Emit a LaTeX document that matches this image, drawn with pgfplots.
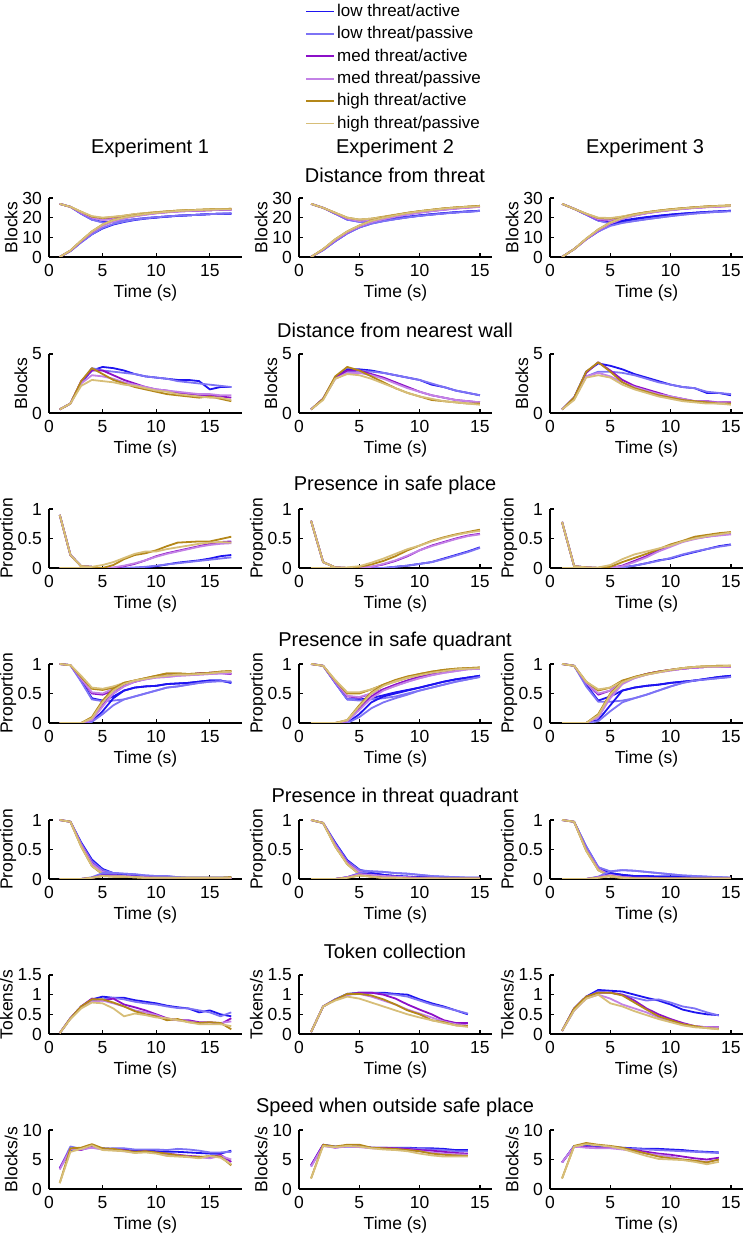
\documentclass[border=0pt]{standalone}
\usepackage{pgfplots}
\pgfplotsset{compat=1.18}
\usepackage{pgfplotstable}
\usepackage{fontspec}
\setmainfont{Liberation Sans}

\definecolor{lowA}{RGB}{30,20,240}
\definecolor{lowP}{RGB}{125,115,245}
\definecolor{medA}{RGB}{140,15,200}
\definecolor{medP}{RGB}{195,130,230}
\definecolor{highA}{RGB}{180,135,25}
\definecolor{highP}{RGB}{215,190,120}

\pgfplotscreateplotcyclelist{threat}{{lowA},{lowP},{medA},{medP},{highA},{highP}}

\pgfplotsset{
  panel/.style={
    scale only axis, width=96.5pt, height=29.5pt,
    xmin=0, ymin=0, xtick={0,5,10,15},
    axis x line*=bottom, axis y line*=left,
    axis line style={line width=0.8pt},
    tick style={black, line width=0.6pt},
    tick align=inside, major tick length=2pt,
    xlabel={Time (s)},
    /pgf/number format/assume math mode=true,
    tick label style={font=\fontsize{8.75}{10}\selectfont},
    label style={font=\fontsize{8.75}{10}\selectfont},
    xlabel style={yshift=2.5pt},
    ylabel style={inner sep=0.5pt, text depth=0.2em, yshift=-3.5pt},
    cycle list name=threat,
    every axis plot/.append style={line width=0.9pt, line join=round},
  },
  e1/.style={panel, xmax=18},
  e2/.style={panel, xmax=16},
  r1/.style={ymax=30, ytick={0,10,20,30}, ylabel=Blocks},
  r2/.style={ymax=5, ytick={0,5}, ylabel=Blocks},
  r3/.style={ymax=1, ytick={0,0.5,1}, ylabel=Proportion},
  r6/.style={ymax=1.5, ytick={0,0.5,1,1.5}, ylabel=Tokens/s},
  r7/.style={ymax=10, ytick={0,5,10}, ylabel=Blocks/s},
}

% one row per series, transposed to columns
\newcommand\mktab[2]{\pgfplotstableread[row sep=\\]{#2}\tmpraw
  \pgfplotstabletranspose[colnames from=n]{#1}\tmpraw}

\newcommand\panel[4]{%
  \begin{axis}[#1, at={(#2)}, anchor=south west]
  \pgfplotsforeachungrouped \i in {1,...,#4}{\addplot table[x index=0, y index=\i]{#3};}
  \end{axis}}

% ---------- Distance from threat ----------
\mktab\dtA{
n 1 2 3 4 5 6 7 8 9 10 11 12 13 14 15 16 17 \\
a1 27 25.5 22 19 17.8 18 18.5 19.2 19.8 20.2 20.6 21 21.2 21.5 21.8 22 22 \\
a2 27 25.5 22 19 17.5 17.8 18.5 19.2 19.8 20.2 20.6 21 21.2 21.5 21.8 22 22.2 \\
a3 27 25.5 22.5 20 19 19.5 20.5 21.3 22 22.5 23 23.3 23.5 23.6 23.8 24 24 \\
a4 27 25.5 22.5 20 18.8 19.3 20.3 21.2 21.8 22.3 22.8 23.2 23.4 23.6 23.8 24 24 \\
a5 27 25.5 23 20.5 19.8 20.3 21 21.8 22.3 22.8 23.2 23.6 23.8 24 24.2 24.3 24.5 \\
a6 27 25.5 23 20.8 20 20.5 21 21.8 22.3 22.8 23.2 23.6 23.8 24 24.2 24.3 24.3 \\
b1 0 3 7.5 11.5 14.5 16.5 17.8 18.8 19.5 20 20.5 20.9 21.2 21.5 21.8 22 22 \\
b2 0 3 7.5 11.5 14.8 16.8 18 19 19.6 20.2 20.6 21 21.2 21.5 21.8 22 22.2 \\
b3 0 3.2 8 12.5 16 18.3 19.8 20.8 21.6 22.3 22.8 23.2 23.4 23.6 23.8 24 24 \\
b4 0 3.2 8 12.5 15.8 18 19.6 20.7 21.5 22.2 22.7 23.1 23.4 23.6 23.8 24 24 \\
b5 0 3.3 8.3 13 16.5 18.8 20.2 21.2 22 22.6 23.1 23.5 23.8 24 24.2 24.3 24.5 \\
b6 0 3.3 8.3 13 16.5 18.7 20.1 21.1 21.9 22.5 23 23.4 23.7 23.9 24.1 24.3 24.3 \\
}
\mktab\dtB{
n 1 2 3 4 5 6 7 8 9 10 11 12 13 14 15 \\
a1 27 25 22 19 18 18.3 19 19.8 20.5 21.2 21.8 22.3 22.8 23.2 23.5 \\
a2 27 25 22 19 17.8 18 18.7 19.5 20.3 21 21.6 22.2 22.7 23.1 23.4 \\
a3 27 25 22.3 19.5 18.5 19 20 21 22 22.8 23.5 24.2 24.8 25.3 25.6 \\
a4 27 25 22.3 19.5 18.3 18.8 19.8 20.8 21.8 22.7 23.4 24.1 24.7 25.2 25.5 \\
a5 27 25 22.5 20 19 19.5 20.5 21.5 22.5 23.3 24 24.7 25.2 25.6 26 \\
a6 27 25 22.5 20 19 19.5 20.3 21.3 22.3 23.1 23.9 24.6 25.1 25.5 25.8 \\
b1 0 3.5 8 12 15 17 18.3 19.3 20.2 21 21.6 22.2 22.7 23.1 23.5 \\
b2 0 3.5 8 12 15 17 18.2 19.2 20.1 20.9 21.5 22.1 22.6 23 23.4 \\
b3 0 3.8 8.5 12.5 15.5 17.8 19.3 20.6 21.7 22.6 23.4 24.1 24.7 25.2 25.6 \\
b4 0 3.8 8.5 12.5 15.5 17.7 19.2 20.5 21.6 22.5 23.3 24 24.6 25.1 25.5 \\
b5 0 4 9 13 16 18.5 20 21.3 22.4 23.3 24 24.7 25.2 25.6 26 \\
b6 0 4 9 13 16 18.4 19.9 21.2 22.3 23.2 23.9 24.6 25.1 25.5 25.8 \\
}
\mktab\dtC{
n 1 2 3 4 5 6 7 8 9 10 11 12 13 14 15 \\
a1 27 24.5 21.5 18.5 17.5 18.5 19.5 20.3 21 21.6 22.1 22.5 22.9 23.2 23.5 \\
a2 27 24.5 21.5 18.5 17 17.5 18.3 19.2 20 20.8 21.5 22.1 22.6 23 23.3 \\
a3 27 24.5 21.8 19 18.5 20 21.3 22.4 23.3 24 24.6 25.1 25.5 25.8 26 \\
a4 27 24.5 21.8 19.2 18.8 20 21.2 22.3 23.2 23.9 24.5 25 25.4 25.7 25.9 \\
a5 27 24.5 22 19.8 19.5 20.5 21.8 22.8 23.6 24.3 24.8 25.3 25.7 26 26.2 \\
a6 27 24.5 22 20 19.8 20.6 21.7 22.7 23.5 24.2 24.7 25.2 25.6 25.9 26.1 \\
b1 0 4 9 13 16.3 18 19.2 20.1 20.9 21.5 22 22.5 22.9 23.2 23.5 \\
b2 0 4 9 13 15.8 17.3 18.3 19.2 20 20.8 21.5 22.1 22.6 23 23.3 \\
b3 0 4 9 13.5 17 19.5 21.1 22.3 23.2 23.9 24.5 25 25.4 25.7 26 \\
b4 0 4 9 13.5 17 19.4 21 22.2 23.1 23.8 24.4 24.9 25.3 25.6 25.9 \\
b5 0 4 9.3 14 17.5 20 21.6 22.7 23.5 24.2 24.8 25.3 25.7 26 26.2 \\
b6 0 4 9.3 14 17.5 19.9 21.5 22.6 23.4 24.1 24.7 25.2 25.6 25.9 26.1 \\
}

% ---------- Distance from nearest wall ----------
\mktab\wA{
n 1 2 3 4 5 6 7 8 9 10 11 12 13 14 15 16 17 \\
c1 0.3 0.8 2.6 3.6 3.9 3.8 3.6 3.3 3.1 3.0 2.9 2.8 2.8 2.7 2.0 2.2 2.2 \\
c2 0.3 0.8 2.6 3.8 3.6 3.5 3.4 3.3 3.1 3.0 2.9 2.7 2.6 2.5 2.4 2.3 2.2 \\
c3 0.3 0.8 2.7 3.6 3.6 3.2 2.8 2.5 2.2 2.0 1.9 1.7 1.6 1.5 1.5 1.4 1.3 \\
c4 0.3 0.8 2.5 3.2 3.1 2.9 2.6 2.4 2.2 2.0 1.9 1.8 1.7 1.6 1.6 1.5 1.5 \\
c5 0.3 0.8 2.7 3.8 3.3 2.8 2.5 2.2 2.0 1.8 1.6 1.5 1.4 1.3 1.4 1.2 1.0 \\
c6 0.3 0.8 2.3 2.8 2.7 2.6 2.4 2.3 2.1 1.9 1.8 1.6 1.5 1.4 1.3 1.3 1.1 \\
}
\mktab\wB{
n 1 2 3 4 5 6 7 8 9 10 11 12 13 14 15 \\
c1 0.3 1.2 3.0 3.7 3.7 3.6 3.4 3.2 3.0 2.8 2.4 2.2 1.9 1.7 1.5 \\
c2 0.3 1.2 2.9 3.5 3.6 3.5 3.4 3.2 3.0 2.8 2.5 2.2 1.9 1.7 1.5 \\
c3 0.3 1.2 3.0 3.6 3.6 3.3 3.0 2.6 2.2 1.8 1.5 1.3 1.1 1.0 0.9 \\
c4 0.3 1.2 2.9 3.4 3.4 3.2 2.9 2.5 2.1 1.8 1.5 1.3 1.1 1.0 0.9 \\
c5 0.3 1.2 3.1 3.9 3.6 3.1 2.6 2.1 1.7 1.4 1.1 1.0 0.9 0.8 0.8 \\
c6 0.3 1.1 2.9 3.3 3.2 2.9 2.5 2.1 1.7 1.4 1.2 1.0 0.9 0.8 0.7 \\
}
\mktab\wC{
n 1 2 3 4 5 6 7 8 9 10 11 12 13 14 15 \\
c1 0.3 1.3 3.5 4.2 4.0 3.7 3.3 3.0 2.7 2.4 2.2 2.1 1.7 1.7 1.5 \\
c2 0.3 1.2 3.1 3.5 3.5 3.4 3.2 2.9 2.6 2.4 2.2 2.1 1.8 1.7 1.6 \\
c3 0.3 1.3 3.4 4.3 3.6 2.8 2.3 2.0 1.7 1.4 1.2 1.0 1.0 0.9 0.9 \\
c4 0.3 1.2 3.1 3.4 3.1 2.6 2.2 1.9 1.6 1.4 1.2 1.0 0.9 0.9 0.8 \\
c5 0.3 1.3 3.5 4.3 3.5 2.6 2.1 1.8 1.5 1.3 1.1 1.0 0.9 0.8 0.8 \\
c6 0.3 1.1 3.0 3.2 3.0 2.4 2.0 1.7 1.4 1.2 1.0 0.9 0.8 0.8 0.7 \\
}

% ---------- Presence in safe place ----------
\mktab\spA{
n 1 2 3 4 5 6 7 8 9 10 11 12 13 14 15 16 17 \\
a1 0.9 0.22 0.03 0.02 nan nan nan nan nan nan nan nan nan nan nan nan nan \\
a2 0.9 0.22 0.03 0.02 nan nan nan nan nan nan nan nan nan nan nan nan nan \\
a3 0.9 0.22 0.03 0.02 nan nan nan nan nan nan nan nan nan nan nan nan nan \\
a4 0.9 0.22 0.03 0.02 nan nan nan nan nan nan nan nan nan nan nan nan nan \\
a5 0.9 0.22 0.03 0.02 nan nan nan nan nan nan nan nan nan nan nan nan nan \\
a6 0.9 0.22 0.03 0.02 nan nan nan nan nan nan nan nan nan nan nan nan nan \\
b1 0 0 0 0 0 0 0 0 0.01 0.03 0.06 0.09 0.11 0.13 0.16 0.2 0.22 \\
b2 0 0 0 0 0 0 0 0.01 0.02 0.04 0.06 0.08 0.1 0.12 0.14 0.16 0.18 \\
b3 0 0 0 0 0 0 0.03 0.07 0.13 0.2 0.25 0.29 0.33 0.37 0.41 0.44 0.45 \\
b4 0 0 0 0 0 0.01 0.04 0.08 0.13 0.19 0.24 0.28 0.32 0.36 0.39 0.41 0.42 \\
b5 0 0 0 0 0 0.05 0.15 0.22 0.25 0.3 0.37 0.43 0.44 0.45 0.45 0.49 0.53 \\
b6 0 0 0 0.02 0.05 0.1 0.17 0.24 0.28 0.28 0.32 0.35 0.38 0.41 0.43 0.44 0.43 \\
}
\mktab\spB{
n 1 2 3 4 5 6 7 8 9 10 11 12 13 14 15 \\
a1 0.8 0.1 0.01 0 nan nan nan nan nan nan nan nan nan nan nan \\
a2 0.8 0.1 0.01 0 nan nan nan nan nan nan nan nan nan nan nan \\
a3 0.8 0.1 0.01 0 nan nan nan nan nan nan nan nan nan nan nan \\
a4 0.8 0.1 0.01 0 nan nan nan nan nan nan nan nan nan nan nan \\
a5 0.8 0.1 0.01 0 nan nan nan nan nan nan nan nan nan nan nan \\
a6 0.8 0.1 0.01 0 nan nan nan nan nan nan nan nan nan nan nan \\
b1 0 0 0 0 0 0 0 0.02 0.04 0.07 0.1 0.16 0.22 0.28 0.35 \\
b2 0 0 0 0 0 0 0 0.02 0.04 0.07 0.1 0.15 0.21 0.27 0.34 \\
b3 0 0 0 0 0 0.02 0.06 0.12 0.2 0.3 0.38 0.44 0.5 0.55 0.58 \\
b4 0 0 0 0 0 0.02 0.07 0.13 0.21 0.3 0.37 0.43 0.49 0.54 0.57 \\
b5 0 0 0 0 0.02 0.06 0.12 0.2 0.3 0.38 0.46 0.52 0.57 0.61 0.65 \\
b6 0 0 0 0.01 0.03 0.09 0.16 0.24 0.32 0.38 0.45 0.51 0.56 0.6 0.63 \\
}
\mktab\spC{
n 1 2 3 4 5 6 7 8 9 10 11 12 13 14 15 \\
a1 0.78 0.03 0.01 0 nan nan nan nan nan nan nan nan nan nan nan \\
a2 0.78 0.03 0.01 0 nan nan nan nan nan nan nan nan nan nan nan \\
a3 0.78 0.03 0.01 0 nan nan nan nan nan nan nan nan nan nan nan \\
a4 0.78 0.03 0.01 0 nan nan nan nan nan nan nan nan nan nan nan \\
a5 0.78 0.03 0.01 0 nan nan nan nan nan nan nan nan nan nan nan \\
a6 0.78 0.03 0.01 0 nan nan nan nan nan nan nan nan nan nan nan \\
b1 0 0 0 0 0 0.01 0.04 0.08 0.13 0.16 0.22 0.27 0.32 0.37 0.4 \\
b2 0 0 0 0 0 0.01 0.04 0.08 0.12 0.17 0.23 0.28 0.32 0.36 0.39 \\
b3 0 0 0 0 0 0.04 0.12 0.2 0.3 0.38 0.45 0.5 0.53 0.56 0.58 \\
b4 0 0 0 0 0 0.03 0.1 0.18 0.28 0.36 0.44 0.49 0.53 0.55 0.57 \\
b5 0 0 0 0 0.02 0.1 0.17 0.24 0.32 0.4 0.46 0.53 0.56 0.59 0.61 \\
b6 0 0 0 0.01 0.05 0.15 0.23 0.28 0.33 0.38 0.45 0.5 0.54 0.57 0.6 \\
}

% ---------- Presence in safe quadrant ----------
\mktab\sqA{
n 1 2 3 4 5 6 7 8 9 10 11 12 13 14 15 16 17 \\
a1 1 0.98 0.72 0.42 0.38 0.45 0.55 0.6 0.62 0.63 0.66 0.67 0.68 0.7 0.72 0.72 0.68 \\
a2 1 0.98 0.7 0.4 0.37 0.38 0.4 0.45 0.5 0.55 0.6 0.62 0.65 0.68 0.7 0.71 0.7 \\
a3 1 0.98 0.75 0.5 0.48 0.55 0.65 0.7 0.75 0.78 0.8 0.82 0.82 0.84 0.85 0.85 0.83 \\
a4 1 0.98 0.75 0.52 0.5 0.58 0.66 0.7 0.74 0.77 0.78 0.8 0.81 0.82 0.83 0.84 0.84 \\
a5 1 0.98 0.78 0.58 0.56 0.6 0.68 0.72 0.76 0.8 0.84 0.84 0.83 0.84 0.85 0.87 0.88 \\
a6 1 0.98 0.8 0.6 0.58 0.62 0.68 0.72 0.75 0.78 0.8 0.82 0.82 0.83 0.84 0.86 0.87 \\
b1 0 0 0 0.02 0.2 0.42 0.55 0.6 0.62 0.63 0.66 0.67 0.68 0.7 0.72 0.72 0.68 \\
b2 0 0 0 0.02 0.15 0.3 0.4 0.45 0.5 0.55 0.6 0.62 0.65 0.68 0.7 0.71 0.7 \\
b3 0 0 0 0.05 0.3 0.5 0.63 0.7 0.75 0.78 0.8 0.82 0.82 0.84 0.85 0.85 0.83 \\
b4 0 0 0 0.05 0.28 0.5 0.62 0.7 0.74 0.77 0.78 0.8 0.81 0.82 0.83 0.84 0.84 \\
b5 0 0 0 0.1 0.38 0.58 0.68 0.72 0.76 0.8 0.84 0.84 0.83 0.84 0.85 0.87 0.88 \\
b6 0 0 0 0.08 0.35 0.55 0.66 0.72 0.75 0.78 0.8 0.82 0.82 0.83 0.84 0.86 0.87 \\
}
\mktab\sqB{
n 1 2 3 4 5 6 7 8 9 10 11 12 13 14 15 \\
a1 1 0.97 0.68 0.4 0.4 0.42 0.47 0.52 0.56 0.6 0.65 0.7 0.74 0.77 0.8 \\
a2 1 0.97 0.68 0.4 0.38 0.4 0.42 0.45 0.5 0.55 0.6 0.65 0.7 0.74 0.78 \\
a3 1 0.97 0.7 0.45 0.43 0.5 0.57 0.65 0.72 0.78 0.83 0.87 0.9 0.92 0.93 \\
a4 1 0.97 0.7 0.46 0.44 0.5 0.56 0.63 0.7 0.76 0.81 0.85 0.88 0.91 0.92 \\
a5 1 0.97 0.72 0.5 0.5 0.57 0.65 0.72 0.78 0.83 0.87 0.9 0.92 0.93 0.94 \\
a6 1 0.97 0.73 0.52 0.52 0.57 0.64 0.7 0.76 0.81 0.85 0.88 0.91 0.92 0.93 \\
b1 0 0 0 0 0.15 0.35 0.45 0.5 0.55 0.6 0.65 0.7 0.74 0.77 0.8 \\
b2 0 0 0 0 0.1 0.25 0.35 0.42 0.48 0.55 0.6 0.65 0.7 0.74 0.78 \\
b3 0 0 0 0.03 0.25 0.45 0.57 0.65 0.72 0.78 0.83 0.87 0.9 0.92 0.93 \\
b4 0 0 0 0.03 0.22 0.42 0.55 0.63 0.7 0.76 0.81 0.85 0.88 0.91 0.92 \\
b5 0 0 0 0.05 0.3 0.52 0.65 0.73 0.79 0.83 0.87 0.9 0.92 0.93 0.94 \\
b6 0 0 0 0.05 0.28 0.5 0.63 0.71 0.77 0.81 0.85 0.88 0.91 0.92 0.93 \\
}
\mktab\sqC{
n 1 2 3 4 5 6 7 8 9 10 11 12 13 14 15 \\
a1 1 0.97 0.65 0.38 0.45 0.55 0.6 0.63 0.65 0.68 0.7 0.72 0.75 0.78 0.8 \\
a2 1 0.97 0.62 0.36 0.36 0.38 0.42 0.48 0.55 0.62 0.68 0.72 0.74 0.76 0.78 \\
a3 1 0.97 0.68 0.48 0.55 0.7 0.77 0.83 0.87 0.9 0.92 0.94 0.95 0.96 0.96 \\
a4 1 0.97 0.68 0.5 0.55 0.68 0.76 0.82 0.86 0.89 0.92 0.94 0.95 0.95 0.96 \\
a5 1 0.97 0.7 0.55 0.6 0.72 0.78 0.83 0.87 0.9 0.93 0.95 0.96 0.97 0.97 \\
a6 1 0.97 0.7 0.57 0.6 0.7 0.77 0.82 0.86 0.9 0.93 0.95 0.96 0.96 0.97 \\
b1 0 0 0 0.05 0.3 0.55 0.6 0.63 0.65 0.68 0.7 0.72 0.75 0.78 0.8 \\
b2 0 0 0 0.03 0.2 0.35 0.42 0.48 0.55 0.62 0.68 0.72 0.74 0.76 0.78 \\
b3 0 0 0 0.1 0.45 0.68 0.77 0.83 0.87 0.9 0.92 0.94 0.95 0.96 0.96 \\
b4 0 0 0 0.1 0.42 0.66 0.76 0.82 0.86 0.89 0.92 0.94 0.95 0.95 0.96 \\
b5 0 0 0 0.15 0.5 0.7 0.78 0.83 0.87 0.9 0.93 0.95 0.96 0.97 0.97 \\
b6 0 0 0 0.13 0.48 0.69 0.77 0.82 0.86 0.9 0.93 0.95 0.96 0.96 0.97 \\
}

% ---------- Presence in threat quadrant ----------
\mktab\tqA{
n 1 2 3 4 5 6 7 8 9 10 11 12 13 14 15 16 17 \\
a1 1 0.97 0.62 0.33 0.17 0.1 0.08 0.06 0.05 0.04 0.03 0.02 0.02 0.02 0.02 0.02 0.02 \\
a2 1 0.97 0.6 0.3 0.15 0.1 0.09 0.08 0.06 0.05 0.05 0.03 0.02 0.02 0.02 0.02 0.02 \\
a3 1 0.97 0.58 0.27 0.12 0.07 0.05 0.04 0.03 0.02 0.02 0.01 0.01 0.01 0.01 0.01 0.01 \\
a4 1 0.97 0.58 0.26 0.12 0.07 0.05 0.04 0.03 0.02 0.02 0.01 0.01 0.01 0.01 0.01 0.01 \\
a5 1 0.97 0.55 0.22 0.08 0.05 0.04 0.03 0.02 0.02 0.02 0.02 0.02 0.02 0.02 0.02 0.03 \\
a6 1 0.97 0.55 0.22 0.09 0.05 0.04 0.03 0.02 0.02 0.02 0.02 0.02 0.02 0.02 0.02 0.02 \\
b1 0 0 0 0.02 0.07 0.08 0.07 0.06 0.05 0.04 0.03 0.02 0.02 0.02 0.02 0.02 0.02 \\
b2 0 0 0 0.03 0.1 0.1 0.09 0.08 0.06 0.05 0.05 0.03 0.02 0.02 0.02 0.02 0.02 \\
b3 0 0 0 0.02 0.06 0.06 0.05 0.04 0.03 0.02 0.02 0.01 0.01 0.01 0.01 0.01 0.01 \\
b4 0 0 0 0.02 0.06 0.06 0.05 0.04 0.03 0.02 0.02 0.01 0.01 0.01 0.01 0.01 0.01 \\
b5 0 0 0 0.02 0.05 0.04 0.04 0.03 0.02 0.02 0.02 0.02 0.02 0.02 0.02 0.02 0.03 \\
b6 0 0 0 0.02 0.05 0.04 0.04 0.03 0.02 0.02 0.02 0.02 0.02 0.02 0.02 0.02 0.02 \\
}
\mktab\tqB{
n 1 2 3 4 5 6 7 8 9 10 11 12 13 14 15 \\
a1 1 0.95 0.62 0.32 0.16 0.1 0.07 0.05 0.04 0.03 0.03 0.02 0.02 0.02 0.02 \\
a2 1 0.95 0.6 0.3 0.15 0.13 0.12 0.1 0.09 0.07 0.05 0.04 0.03 0.02 0.02 \\
a3 1 0.95 0.58 0.28 0.12 0.07 0.05 0.04 0.03 0.02 0.02 0.01 0.01 0.01 0.01 \\
a4 1 0.95 0.58 0.27 0.12 0.07 0.05 0.04 0.03 0.02 0.02 0.01 0.01 0.01 0.01 \\
a5 1 0.95 0.55 0.25 0.08 0.04 0.02 0.02 0.01 0.01 0.01 0.01 0.01 0.01 0.01 \\
a6 1 0.95 0.55 0.25 0.08 0.04 0.02 0.02 0.01 0.01 0.01 0.01 0.01 0.01 0.01 \\
b1 0 0 0 0.03 0.09 0.1 0.07 0.05 0.04 0.03 0.03 0.02 0.02 0.02 0.02 \\
b2 0 0 0 0.03 0.1 0.13 0.12 0.1 0.09 0.07 0.05 0.04 0.03 0.02 0.02 \\
b3 0 0 0 0.03 0.08 0.07 0.05 0.04 0.03 0.02 0.02 0.01 0.01 0.01 0.01 \\
b4 0 0 0 0.03 0.08 0.07 0.05 0.04 0.03 0.02 0.02 0.01 0.01 0.01 0.01 \\
b5 0 0 0 0.02 0.06 0.04 0.02 0.02 0.01 0.01 0.01 0.01 0.01 0.01 0.01 \\
b6 0 0 0 0.02 0.06 0.04 0.02 0.02 0.01 0.01 0.01 0.01 0.01 0.01 0.01 \\
}
\mktab\tqC{
n 1 2 3 4 5 6 7 8 9 10 11 12 13 14 15 \\
a1 1 0.97 0.55 0.2 0.1 0.07 0.05 0.05 0.04 0.04 0.04 0.03 0.03 0.02 0.02 \\
a2 1 0.97 0.55 0.2 0.13 0.15 0.14 0.12 0.1 0.08 0.06 0.05 0.04 0.03 0.02 \\
a3 1 0.97 0.5 0.17 0.06 0.03 0.02 0.02 0.01 0.01 0.01 0.01 0.01 0.01 0.01 \\
a4 1 0.97 0.5 0.17 0.06 0.03 0.02 0.02 0.01 0.01 0.01 0.01 0.01 0.01 0.01 \\
a5 1 0.97 0.48 0.15 0.04 0.02 0.01 0.01 0.01 0.01 0.01 0.01 0.01 0.01 0.01 \\
a6 1 0.97 0.48 0.15 0.04 0.02 0.01 0.01 0.01 0.01 0.01 0.01 0.01 0.01 0.01 \\
b1 0 0 0 0.03 0.1 0.07 0.05 0.05 0.04 0.04 0.04 0.03 0.03 0.02 0.02 \\
b2 0 0 0 0.04 0.13 0.15 0.14 0.12 0.1 0.08 0.06 0.05 0.04 0.03 0.02 \\
b3 0 0 0 0.03 0.07 0.03 0.02 0.02 0.01 0.01 0.01 0.01 0.01 0.01 0.01 \\
b4 0 0 0 0.03 0.07 0.03 0.02 0.02 0.01 0.01 0.01 0.01 0.01 0.01 0.01 \\
b5 0 0 0 0.02 0.05 0.02 0.01 0.01 0.01 0.01 0.01 0.01 0.01 0.01 0.01 \\
b6 0 0 0 0.02 0.05 0.02 0.01 0.01 0.01 0.01 0.01 0.01 0.01 0.01 0.01 \\
}

% ---------- Token collection ----------
\mktab\tkA{
n 1 2 3 4 5 6 7 8 9 10 11 12 13 14 15 16 17 \\
c1 0.02 0.4 0.7 0.88 0.95 0.92 0.92 0.86 0.82 0.78 0.72 0.68 0.65 0.55 0.6 0.5 0.45 \\
c2 0.02 0.4 0.68 0.85 0.88 0.92 0.88 0.82 0.78 0.75 0.7 0.66 0.65 0.6 0.55 0.45 0.55 \\
c3 0.02 0.4 0.7 0.9 0.85 0.9 0.75 0.68 0.6 0.5 0.4 0.35 0.35 0.3 0.3 0.25 0.4 \\
c4 0.02 0.4 0.68 0.82 0.85 0.78 0.7 0.6 0.55 0.48 0.38 0.35 0.32 0.28 0.3 0.28 0.32 \\
c5 0.02 0.4 0.7 0.88 0.88 0.8 0.7 0.58 0.5 0.45 0.35 0.38 0.3 0.28 0.3 0.28 0.12 \\
c6 0.02 0.38 0.65 0.8 0.78 0.65 0.45 0.52 0.48 0.42 0.4 0.35 0.3 0.25 0.25 0.25 0.2 \\
}
\mktab\tkB{
n 1 2 3 4 5 6 7 8 9 10 11 12 13 14 \\
c1 0.05 0.7 0.88 1.02 1.05 1.05 1.05 1.02 1.0 0.88 0.78 0.7 0.6 0.5 \\
c2 0.05 0.7 0.88 1.0 1.05 1.05 1.02 1.0 0.95 0.85 0.75 0.68 0.6 0.52 \\
c3 0.05 0.7 0.87 1.0 1.05 1.05 1.0 0.9 0.75 0.62 0.5 0.35 0.28 0.28 \\
c4 0.05 0.7 0.87 1.0 1.02 0.95 0.85 0.75 0.62 0.52 0.42 0.32 0.25 0.22 \\
c5 0.05 0.7 0.87 1.02 1.02 0.98 0.88 0.75 0.6 0.5 0.35 0.3 0.22 0.2 \\
c6 0.05 0.7 0.85 0.95 0.9 0.8 0.7 0.6 0.5 0.42 0.35 0.28 0.22 0.18 \\
}
\mktab\tkC{
n 1 2 3 4 5 6 7 8 9 10 11 12 13 14 \\
c1 0.08 0.65 0.95 1.12 1.1 1.08 1.0 0.92 0.85 0.75 0.62 0.55 0.5 0.48 \\
c2 0.08 0.6 0.92 1.08 1.05 1.0 0.92 0.85 0.88 0.8 0.7 0.65 0.55 0.47 \\
c3 0.08 0.65 0.95 1.05 1.05 1.0 0.85 0.65 0.5 0.38 0.28 0.2 0.17 0.17 \\
c4 0.08 0.6 0.9 1.0 0.9 0.75 0.65 0.55 0.42 0.32 0.25 0.2 0.17 0.15 \\
c5 0.08 0.65 0.95 1.05 1.05 0.98 0.8 0.62 0.45 0.35 0.25 0.2 0.15 0.13 \\
c6 0.08 0.6 0.9 1.0 0.78 0.7 0.58 0.48 0.38 0.3 0.22 0.17 0.15 0.12 \\
}

% ---------- Speed when outside safe place ----------
\mktab\vA{
n 1 2 3 4 5 6 7 8 9 10 11 12 13 14 15 16 17 \\
c1 3.5 6.5 6.8 7.2 6.9 6.8 6.8 6.5 6.6 6.4 6.3 6.3 6.2 6.1 6.0 6.0 6.5 \\
c2 3.5 7.2 6.8 7.0 6.8 6.9 6.9 6.7 6.7 6.7 6.6 6.8 6.7 6.5 6.2 6.2 6.3 \\
c3 3.5 6.8 6.6 7.2 6.8 6.7 6.6 6.3 6.4 6.2 6.0 5.8 5.6 5.5 5.3 5.8 4.6 \\
c4 3.3 6.8 6.7 7.0 6.7 6.6 6.4 6.2 6.3 6.1 5.8 5.7 5.5 5.4 5.2 5.6 5.0 \\
c5 1.0 6.9 7.0 7.6 6.9 6.8 6.5 6.3 6.4 6.2 6.0 5.7 5.5 5.4 5.6 5.5 4.0 \\
c6 1.0 6.3 6.8 7.4 6.6 6.5 6.4 6.1 6.2 6.0 5.6 5.5 5.4 5.2 5.6 5.3 4.2 \\
}
\mktab\vB{
n 1 2 3 4 5 6 7 8 9 10 11 12 13 14 \\
c1 4.0 7.5 7.2 7.2 7.2 7.0 7.0 7.0 7.0 6.9 6.9 6.8 6.6 6.6 \\
c2 3.8 7.3 7.1 7.2 7.3 7.0 6.9 6.9 6.9 6.8 6.7 6.6 6.4 6.4 \\
c3 4.0 7.5 7.0 7.3 7.2 7.0 7.0 6.9 6.8 6.6 6.5 6.3 6.1 6.0 \\
c4 3.8 7.3 7.0 7.2 7.1 6.9 6.8 6.7 6.6 6.4 6.2 6.0 5.9 5.8 \\
c5 1.8 7.5 7.2 7.5 7.5 7.0 6.9 6.8 6.6 6.4 6.0 5.8 5.7 5.6 \\
c6 1.8 7.3 7.1 7.3 7.2 6.9 6.7 6.6 6.4 6.0 5.7 5.5 5.5 5.5 \\
}
\mktab\vC{
n 1 2 3 4 5 6 7 8 9 10 11 12 13 14 \\
c1 4.5 7.3 7.3 7.2 7.1 7.0 6.9 6.8 6.8 6.7 6.6 6.4 6.3 6.2 \\
c2 4.5 7.2 7.2 7.0 7.0 6.9 6.8 6.7 6.6 6.5 6.4 6.3 6.2 6.1 \\
c3 4.5 7.2 7.1 7.0 7.0 6.9 6.6 6.3 6.0 5.8 5.5 5.2 5.0 5.3 \\
c4 4.5 7.2 7.0 6.9 6.9 6.7 6.4 6.0 5.8 5.5 5.0 4.8 4.6 5.0 \\
c5 1.8 7.3 7.8 7.5 7.3 7.0 6.5 6.0 5.5 5.2 5.0 4.8 4.5 5.0 \\
c6 1.8 7.2 7.6 7.4 7.2 6.8 6.2 5.6 5.1 5.0 4.9 4.6 4.2 4.6 \\
}

\begin{document}
\begin{tikzpicture}
\useasboundingbox (0,0) rectangle (372.5pt,618pt);

% column and row titles
\begin{scope}[every node/.style={font=\fontsize{10}{12}\selectfont, inner sep=0pt}]
\node at (75pt,544pt) {Experiment 1};
\node at (197.5pt,544pt) {Experiment 2};
\node at (322.5pt,544pt) {Experiment 3};
\node at (197.5pt,530.5pt) {Distance from threat};
\node at (197.5pt,453pt) {Distance from nearest wall};
\node at (197.5pt,375.5pt) {Presence in safe place};
\node at (197.5pt,297.5pt) {Presence in safe quadrant};
\node at (197.5pt,219.5pt) {Presence in threat quadrant};
\node at (197.5pt,142.5pt) {Token collection};
\node at (197.5pt,64.5pt) {Speed when outside safe place};
\end{scope}

% legend, in an empty axis at the top
\begin{axis}[hide axis, scale only axis, width=10pt, height=10pt,
  xmin=0, xmax=1, ymin=0, ymax=1,
  at={(152.5pt,618pt)}, anchor=north west,
  legend cell align=left,
  legend image code/.code={\draw[#1] (0pt,0pt) -- (14pt,0pt);},
  legend style={draw=none, fill=none, at={(0,1)}, anchor=north west,
    inner sep=0pt, row sep=0pt,
    nodes={inner sep=1pt, text height=7pt, text depth=2.2pt,
      font=\fontsize{8.5}{10}\selectfont}}]
\addlegendimage{lowA, line width=0.9pt}\addlegendentry{low threat/active}
\addlegendimage{lowP, line width=0.9pt}\addlegendentry{low threat/passive}
\addlegendimage{medA, line width=0.9pt}\addlegendentry{med threat/active}
\addlegendimage{medP, line width=0.9pt}\addlegendentry{med threat/passive}
\addlegendimage{highA, line width=0.9pt}\addlegendentry{high threat/active}
\addlegendimage{highP, line width=0.9pt}\addlegendentry{high threat/passive}
\end{axis}

% row 1
\panel{e1,r1}{24.5pt,489.5pt}{\dtA}{12}
\panel{e2,r1}{149.5pt,489.5pt}{\dtB}{12}
\panel{e2,r1}{275pt,489.5pt}{\dtC}{12}
% row 2
\panel{e1,r2}{24.5pt,411.5pt}{\wA}{6}
\panel{e2,r2}{149.5pt,411.5pt}{\wB}{6}
\panel{e2,r2}{275pt,411.5pt}{\wC}{6}
% row 3
\panel{e1,r3}{24.5pt,334pt}{\spA}{12}
\panel{e2,r3}{149.5pt,334pt}{\spB}{12}
\panel{e2,r3}{275pt,334pt}{\spC}{12}
% row 4
\panel{e1,r3}{24.5pt,256.5pt}{\sqA}{12}
\panel{e2,r3}{149.5pt,256.5pt}{\sqB}{12}
\panel{e2,r3}{275pt,256.5pt}{\sqC}{12}
% row 5
\panel{e1,r3}{24.5pt,178.5pt}{\tqA}{12}
\panel{e2,r3}{149.5pt,178.5pt}{\tqB}{12}
\panel{e2,r3}{275pt,178.5pt}{\tqC}{12}
% row 6
\panel{e1,r6}{24.5pt,101pt}{\tkA}{6}
\panel{e2,r6}{149.5pt,101pt}{\tkB}{6}
\panel{e2,r6}{275pt,101pt}{\tkC}{6}
% row 7
\panel{e1,r7}{24.5pt,23.5pt}{\vA}{6}
\panel{e2,r7}{149.5pt,23.5pt}{\vB}{6}
\panel{e2,r7}{275pt,23.5pt}{\vC}{6}
\end{tikzpicture}
\end{document}
